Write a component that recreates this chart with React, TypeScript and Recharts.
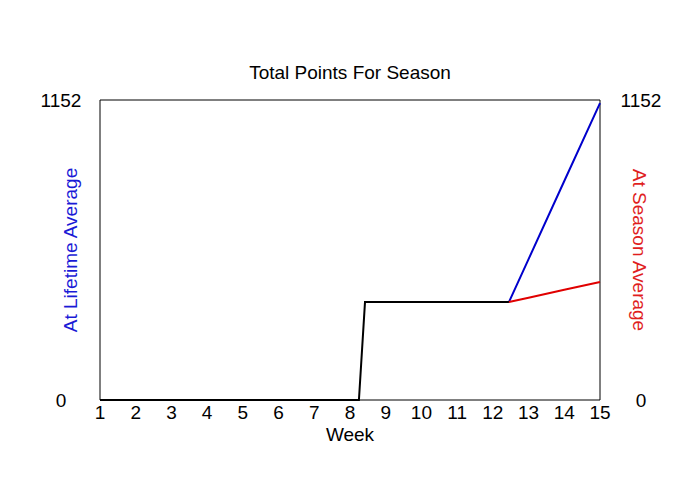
import React from 'react';
import {
  LineChart,
  Line,
  XAxis,
  YAxis,
  ReferenceArea,
} from 'recharts';

// weeks on x, total points on y
const weekTicks = [1, 2, 3, 4, 5, 6, 7, 8, 9, 10, 11, 12, 13, 14, 15];
const pointTicks = [0, 1152];
const maxPoints = 1152;

const actualWeeks = [1, 8.25, 8.42, 12.45];
const actualPoints = [0, 0, 376, 376];

const projWeeks = [12.45, 13, 14, 15];
const lifetimePoints = [376, 541, 841, 1140];
const seasonPoints = [376, 393, 423, 453];

const toRows = (xs: number[], ys: number[]) => xs.map((x, i) => ({ x, y: ys[i] }));

const actualData = toRows(actualWeeks, actualPoints);
const lifetimeData = toRows(projWeeks, lifetimePoints);
const seasonData = toRows(projWeeks, seasonPoints);

const FONT = '"Liberation Sans", Arial, sans-serif';
const FS = 19;

function SideTick(props: any) {
  const { x, y, payload, shift } = props;
  return (
    <text x={x + shift} y={y} dy={7} textAnchor="middle" fontSize={FS} fill="#000" fontFamily={FONT}>
      {payload.value}
    </text>
  );
}

export default function App() {
  return (
    <div style={{ position: 'absolute', left: 0, top: 0, width: 700, height: 500, background: '#fff' }}>
      <LineChart
        width={700}
        height={500}
        margin={{ top: 100, right: 40, bottom: 80, left: 40 }}
        style={{ fontFamily: FONT }}
      >
        <text x={350} y={79} textAnchor="middle" fontSize={FS} fill="#000" fontFamily={FONT}>
          Total Points For Season
        </text>
        <XAxis
          type="number"
          dataKey="x"
          domain={[1, 15]}
          ticks={weekTicks}
          interval={0}
          allowDuplicatedCategory={false}
          axisLine={false}
          tickLine={false}
          height={20}
          tickMargin={0}
          tick={{ fontSize: FS, fill: '#000', fontFamily: FONT }}
          label={{ value: 'Week', position: 'insideBottom', offset: -21, fontSize: FS, fill: '#000', fontFamily: FONT }}
        />
        <YAxis
          yAxisId="left"
          type="number"
          domain={[0, maxPoints]}
          ticks={pointTicks}
          axisLine={false}
          tickLine={false}
          width={60}
          tick={<SideTick shift={-31} />}
          label={{
            value: 'At Lifetime Average',
            angle: -90,
            position: 'center',
            dx: 0,
            fontSize: FS,
            fill: '#1a1ad6',
            fontFamily: FONT,
          }}
        />
        <YAxis
          yAxisId="right"
          orientation="right"
          type="number"
          domain={[0, maxPoints]}
          ticks={pointTicks}
          axisLine={false}
          tickLine={false}
          width={60}
          tick={<SideTick shift={33} />}
          label={{
            value: 'At Season Average',
            angle: 90,
            position: 'center',
            dx: 10,
            fontSize: FS,
            fill: '#e01e1e',
            fontFamily: FONT,
          }}
        />
        <ReferenceArea
          yAxisId="left"
          x1={1}
          x2={15}
          y1={0}
          y2={maxPoints}
          fill="none"
          fillOpacity={0}
          stroke="#000"
          strokeWidth={1}
        />
        <Line
          yAxisId="left"
          data={lifetimeData}
          dataKey="y"
          stroke="#0000cc"
          strokeWidth={2}
          dot={false}
          isAnimationActive={false}
        />
        <Line
          yAxisId="right"
          data={seasonData}
          dataKey="y"
          stroke="#e00000"
          strokeWidth={2}
          dot={false}
          isAnimationActive={false}
        />
        <Line
          yAxisId="left"
          data={actualData}
          dataKey="y"
          stroke="#000"
          strokeWidth={2}
          dot={false}
          isAnimationActive={false}
        />
      </LineChart>
    </div>
  );
}
